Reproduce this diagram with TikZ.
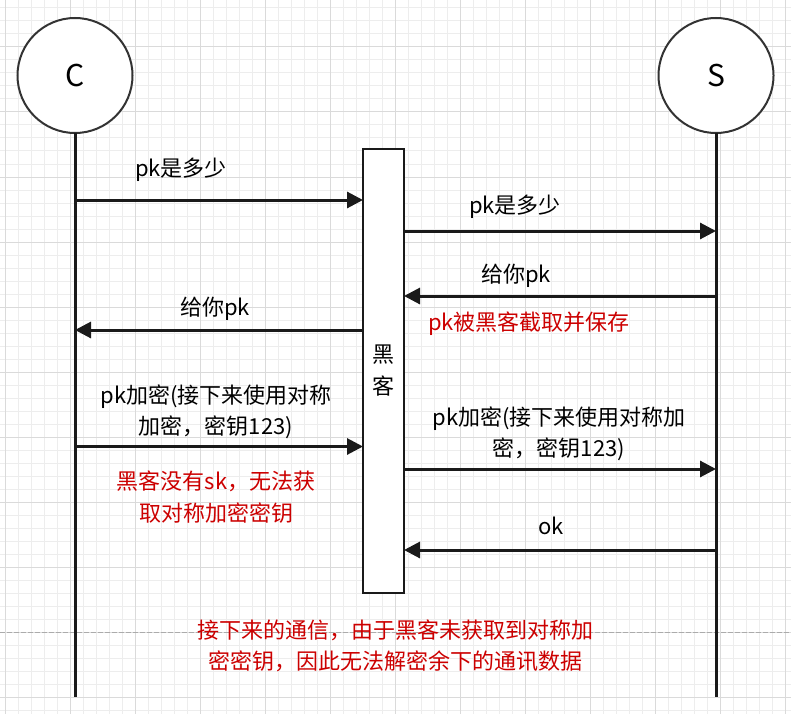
\documentclass[tikz,border=0pt]{standalone}
\usepackage{fontspec}
\setmainfont{Noto Sans CJK SC}
\usetikzlibrary{
  arrows.meta,
  positioning,
  calc
}
\definecolor{seqLine}{HTML}{1A1A1A}
\definecolor{seqRing}{HTML}{333333}
\definecolor{seqNote}{HTML}{CC0000}
\definecolor{gridMinor}{HTML}{EDEDED}
\definecolor{gridMajor}{HTML}{DADADA}
\definecolor{gridPage}{HTML}{ABABAB}
\tikzset{
  actor/.style={
    draw=seqRing, line width=2pt, circle, fill=white, minimum size=115pt,
    inner sep=0pt, outer sep=0pt, font=\fontsize{30}{36}\selectfont
  },
  hacker/.style={
    draw=seqLine, line width=2.6pt, fill=white, minimum width=41pt, minimum height=444pt,
    inner sep=0pt, outer sep=0pt, align=center, font=\fontsize{22}{32}\selectfont
  },
  lifeline/.style={line width=3pt, seqLine},
  msg/.style={-{Triangle[length=16pt, width=16pt]}, line width=3pt, seqLine},
  msgtext/.style={font=\fontsize{22}{31.5}\selectfont, align=center, inner sep=0pt},
  note/.style={msgtext, text=seqNote},
  gridminor/.style={gridMinor, line width=1pt},
  gridmajor/.style={gridMajor, line width=1pt},
  pagebreak/.style={gridPage, line width=1pt, dash pattern=on 5pt off 2pt}
}
\begin{document}
\begin{tikzpicture}[x=1pt, y=-1pt]
  \useasboundingbox (0,0) rectangle (791,714);
  \fill[white] (0,0) rectangle (791,714);
  % grid
  \foreach \k in {0,...,60}
    \draw[gridminor] ({5+13*\k},0) -- ({5+13*\k},714);
  \foreach \k in {-1,...,53}
    \draw[gridminor] (0,{697-13*\k}) -- (791,{697-13*\k});
  \foreach \k in {0,...,12}
    \draw[gridmajor] ({5+65*\k},0) -- ({5+65*\k},714);
  \foreach \k in {0,...,10}
    \draw[gridmajor] (0,{697-65*\k}) -- (791,{697-65*\k});
  \draw[pagebreak] (0,632) -- (791,632);

  % actors and lifelines
  \node[actor] (c) at (75,75.5) {C};
  \node[actor] (s) at (716,75.5) {S};
  \coordinate (cend) at (75,697);
  \coordinate (send) at (716,697);
  \draw[lifeline] (c.south) -- (cend);
  \draw[lifeline] (s.south) -- (send);
  \node[hacker] (h) at (383.5,371) {黑\\客};

  % messages
  \coordinate (c1) at (75,200);
  \coordinate (s2) at (716,231);
  \coordinate (s3) at (716,296);
  \coordinate (c4) at (75,330);
  \coordinate (c5) at (75,446.5);
  \coordinate (s6) at (716,469);
  \coordinate (s7) at (716,550);
  \draw[msg] (c1) -- (c1 -| h.west);
  \draw[msg] (s2 -| h.east) -- (s2);
  \draw[msg] (s3) -- (s3 -| h.east);
  \draw[msg] (c4 -| h.west) -- (c4);
  \draw[msg] (c5) -- (c5 -| h.west);
  \draw[msg] (s6 -| h.east) -- (s6);
  \draw[msg] (s7) -- (s7 -| h.east);

  \node[msgtext] (l1) at (181,170) {pk是多少};
  \node[msgtext] (l2) at (515,207) {pk是多少};
  \node[msgtext] (l3) at (516,276) {给你pk};
  \node[msgtext] (l4) at (215,309) {给你pk};
  \node[msgtext] (l5) at (216,412) {pk加密(接下来使用对称\\加密，密钥123)};
  \node[msgtext] (l6) at (559,434) {pk加密(接下来使用对称加\\密，密钥123)};
  \node[msgtext] (l7) at (551,526) {ok};

  % notes
  \node[note] (n1) at (529,324) {pk被黑客截取并保存};
  \node[note] (n2) at (216,497) {黑客没有sk，无法获\\取对称加密密钥};
  \node[note] (n3) at (395,646) {接下来的通信，由于黑客未获取到对称加\\密密钥，因此无法解密余下的通讯数据};
\end{tikzpicture}
\end{document}
